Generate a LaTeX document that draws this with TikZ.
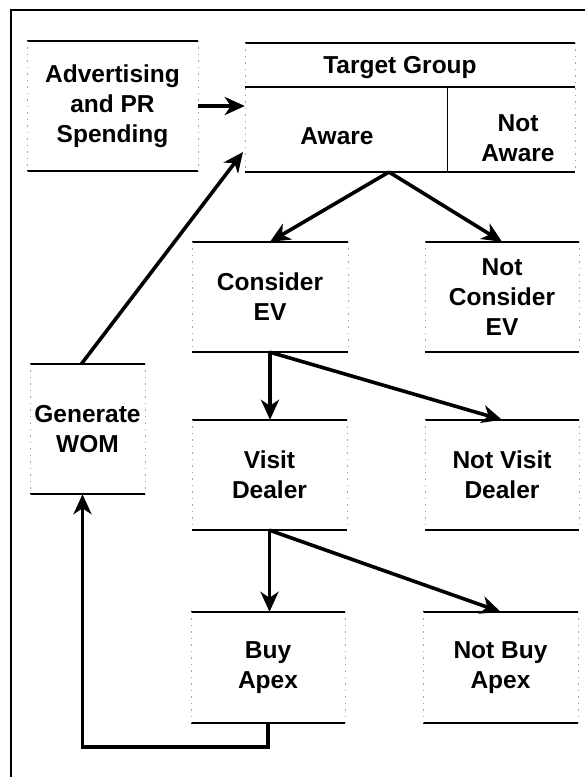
\documentclass[tikz,border=0pt]{standalone}
\usepackage{fontspec}
\setmainfont{Liberation Sans}
\usetikzlibrary{arrows.meta}

\tikzset{
  stage/.style={align=center, inner sep=0pt, font=\bfseries\fontsize{24.5}{30}\selectfont},
  label/.style={align=center, inner sep=0pt, font=\bfseries\fontsize{24.5}{30}\selectfont},
  rule/.style={line width=1.6pt},
  side/.style={gray!70, line width=0.5pt, dash pattern=on 1.5pt off 5pt},
  flow/.style={line width=3.6pt, -{Stealth[length=20pt,width=18pt,inset=6pt]}}
}

\begin{document}
\begin{tikzpicture}
      [x=1pt, y=-1pt]
      \useasboundingbox (0,0) rectangle (585,777);
      % frame
      \draw[line width=2.2pt] (585,10) -- (11,10) -- (11,777);
      % boxes
      \node[stage, minimum width=171, minimum height=130](adv) at (112.5,106) {Advertising\\and PR\\Spending};
      \node[stage, minimum width=330, minimum height=129](tgt) at (410,107.5) {};
      \node[label](tghead) at (400,68) {Target Group};
      \node[label](aware) at (337,136) {Aware};
      \node[label](notaware) at (518,138) {Not\\Aware};
      \node[stage, minimum width=156, minimum height=110](cons) at (270,297) {Consider\\EV};
      \node[stage, minimum width=154, minimum height=110](ncons) at (502,297) {Not\\Consider\\EV};
      \node[stage, minimum width=115, minimum height=130](wom) at (87.5,429) {Generate\\WOM};
      \node[stage, minimum width=155, minimum height=110](visit) at (269.5,475) {Visit\\Dealer};
      \node[stage, minimum width=154, minimum height=110](nvisit) at (502,475) {Not Visit\\Dealer};
      \node[stage, minimum width=154, minimum height=111](buy) at (268,667.5) {Buy\\Apex};
      \node[stage, minimum width=155, minimum height=111](nbuy) at (500.5,667.5) {Not Buy\\Apex};
      \foreach \n in {adv,tgt,cons,ncons,wom,visit,nvisit,buy,nbuy} {
        \draw[rule] (\n.north west) -- (\n.north east);
        \draw[rule] (\n.south west) -- (\n.south east);
        \draw[side] (\n.north west) -- (\n.south west);
        \draw[side] (\n.north east) -- (\n.south east);
      }
      % target group table
      \coordinate(headl) at (245,87);
      \coordinate(headr) at (575,87);
      \coordinate(split) at (447,87);
      \draw[rule] (headl) -- (headr);
      \draw[line width=1pt] (split) -- (split |- tgt.south);
      % connectors
      \coordinate(fork) at (389,172);
      \coordinate(womin) at (243,152);
      \draw[flow] (adv.east) -- (adv.east -| tgt.west);
      \draw[flow] (fork) -- (cons.north);
      \draw[flow] (fork) -- (ncons.north);
      \draw[flow] (cons.south) -- (cons.south |- visit.north);
      \draw[flow] (cons.south) -- (nvisit.north);
      \draw[flow] (visit.south) -- (visit.south |- buy.north);
      \draw[flow] (visit.south) -- (nbuy.north);
      \draw[flow] ([xshift=-6]wom.north) -- (womin);
      \draw[flow] (buy.south) -- ++(0,24) -| ([xshift=-5]wom.south);
  \end{tikzpicture}
\end{document}
